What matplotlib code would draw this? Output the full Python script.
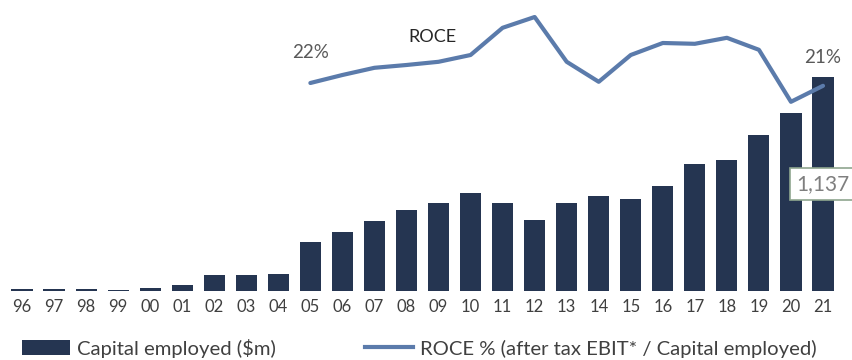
import matplotlib
matplotlib.use("Agg")
import matplotlib.pyplot as plt
from matplotlib.patches import Patch
from matplotlib.lines import Line2D

plt.rcParams['font.family'] = ['Lato', 'DejaVu Sans']

# Financial years, capital employed ($m) and ROCE (%)
years = ['96', '97', '98', '99', '00', '01', '02', '03', '04', '05', '06', '07', '08',
         '09', '10', '11', '12', '13', '14', '15', '16', '17', '18', '19', '20', '21']
capital = [8, 8, 8, 6, 18, 30, 85, 85, 90, 260, 313, 372, 430,
           467, 520, 467, 377, 467, 505, 489, 558, 675, 696, 829, 946, 1137]
roce_years = years[9:]
roce = [22.0, 24.0, 25.8, 26.5, 27.3, 29.0, 35.8, 38.5, 27.3, 22.3, 29.0,
        32.0, 31.8, 33.3, 30.3, 17.3, 21.3]

bar_color = '#253551'
line_color = '#5b7bab'

fig = plt.figure(figsize=(8.52, 3.6), dpi=100)
ax = fig.add_axes([0, 0.1917, 1, 0.8083])
ax2 = ax.twinx()

x = list(range(len(years)))
ax.bar(x, capital, width=0.66, color=bar_color, zorder=2)
ax.set_xlim(-0.687, 25.905)
ax.set_ylim(0, 1546)

xr = [years.index(y) for y in roce_years]
ax2.plot(xr, roce, color=line_color, lw=3, solid_capstyle='round', solid_joinstyle='round')
ax2.set_ylim(-30, 42.75)

for a in (ax, ax2):
    for s in a.spines.values():
        s.set_visible(False)
    a.set_yticks([])
ax.set_xticks(x)
ax.set_xticklabels(years, fontsize=12, color='#404040')
ax.tick_params(axis='x', length=0, pad=6)

# start / end ROCE labels and series title
ax2.text(xr[0], roce[0] + 7.5, f'{roce[0]:.0f}%', ha='center', va='center',
         fontsize=13.5, color='#595959')
ax2.text(xr[-1], roce[-1] + 7.0, f'{roce[-1]:.0f}%', ha='center', va='center',
         fontsize=13.5, color='#595959')
ax2.text(12.8, 33.5, 'ROCE', ha='center', va='center', fontsize=13, color='#262626')

# latest capital employed value in the middle of the bar
ax.text(x[-1], capital[-1] / 2, f'{capital[-1]:,}', ha='center', va='center',
        fontsize=15, color='#7f7f7f', zorder=3,
        bbox=dict(boxstyle='square,pad=0.3', facecolor='white', edgecolor='#8fa68f', lw=1.2))

handles = [Patch(facecolor=bar_color, edgecolor='none'),
           Line2D([0], [0], color=line_color, lw=3)]
fig.legend(handles, ['Capital employed ($m)', 'ROCE % (after tax EBIT* / Capital employed)'],
           loc='center left', bbox_to_anchor=(22 / 852, 12 / 360), ncol=2, frameon=False,
           fontsize=14.6, handlelength=2.35, handletextpad=0.35, columnspacing=4.4,
           borderpad=0, borderaxespad=0, labelcolor='#404040')

fig.savefig('out.png', dpi=100)
